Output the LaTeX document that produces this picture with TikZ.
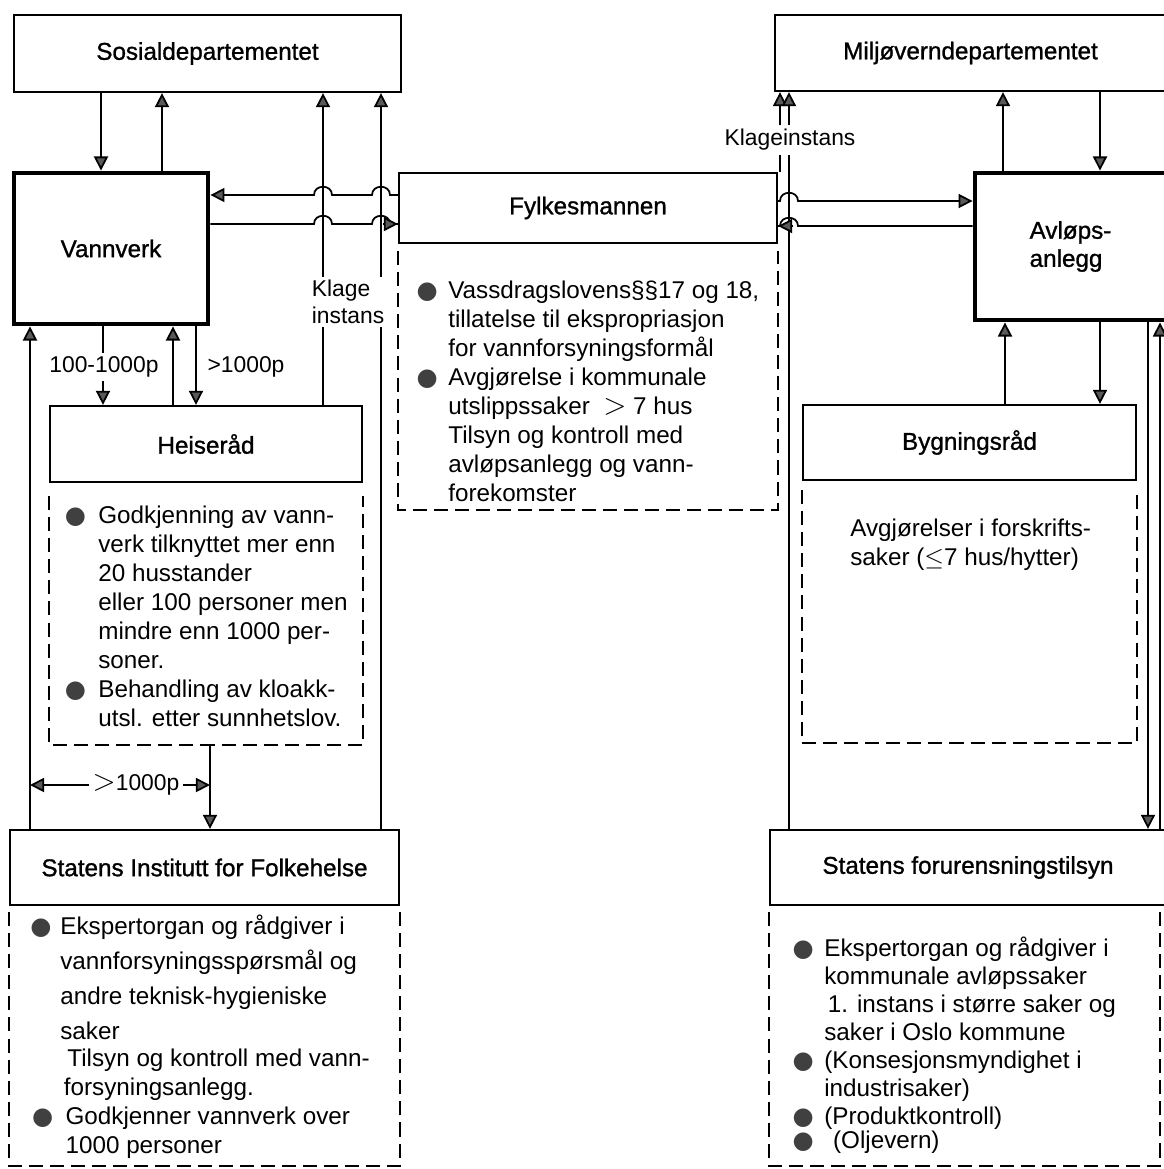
\documentclass[tikz,border=0pt]{standalone}
\usepackage{fontspec}
\setmainfont{Liberation Sans}
\newfontfamily\headfont{Liberation Sans}[FakeBold=1.1]
\newfontfamily\bulletfont{DejaVu Sans}
\usetikzlibrary{arrows.meta}

\newcommand{\blt}{\textcolor{black!75}{\bulletfont ●}}
\newcommand{\bigGt}[1]{{\fontsize{#1}{#1}\selectfont$>$}}

\begin{document}
\begin{tikzpicture}[x=0.02cm, y=-0.02cm,
  box/.style={draw, line width=1.3pt, inner sep=0pt, font=\headfont\fontsize{13.8}{16}\selectfont},
  thickbox/.style={box, line width=2.8pt},
  frame/.style={draw, line width=1.4pt, dash pattern=on 8pt off 4pt},
  info/.style={anchor=north west, inner sep=0pt, align=left, font=\fontsize{13.8}{16.5}\selectfont},
  lbl/.style={inner sep=2pt, font=\fontsize{13}{15}\selectfont},
  wire/.style={line width=1pt},
  arr/.style={wire, -{Triangle[length=8pt,width=8pt,fill=black!65]}},
  rarr/.style={wire, {Triangle[length=8pt,width=8pt,fill=black!65]}-}]

% a line hopping over a vertical line at x=#1, y=#2
\newcommand{\hopOver}[2]{%
  -- ({#1-9},#2) .. controls ({#1-9},{#2-11}) and ({#1+9},{#2-11}) .. ({#1+9},#2)}

\useasboundingbox (0,0) rectangle (1163,1169);

% Boxes
\node[box, minimum width=7.74cm, minimum height=1.54cm] (sos) at (207.5,53.5) {Sosialdepartementet};
\node[thickbox, minimum width=3.88cm, minimum height=3.02cm] (vann) at (111,248.5) {Vannverk\hspace{14pt}};
\node[box, minimum width=7.56cm, minimum height=1.40cm] (fylke) at (588,208) {Fylkesmannen};
\node[box, minimum width=6.24cm, minimum height=1.52cm] (helse) at (206,444) {Heiseråd};
\node[box, minimum width=7.78cm, minimum height=1.50cm] (siff) at (204.5,867.5) {Statens Institutt for Folkehelse};
\node[box, minimum width=7.82cm, minimum height=1.52cm] (milj) at (970.5,53) {Miljøverndepartementet};
\node[thickbox, minimum width=3.82cm, minimum height=2.94cm, align=left] (avl) at (1070.5,246.5) {Avløps-\\anlegg};
\node[box, minimum width=6.66cm, minimum height=1.50cm] (byg) at (969.5,442.5) {Bygningsråd};
\node[box, minimum width=7.92cm, minimum height=1.50cm] (sft) at (968,867.5) {Statens forurensningstilsyn};

% Dashed frames under the boxes
\coordinate (helsebot) at (210,745);
\draw[frame] (fylke.south west |- 0,251) |- (fylke.south east |- 0,510) -- (fylke.south east |- 0,251);
\draw[frame] (helse.south west |- 0,496) |- (helse.east |- helsebot) -- (helse.south east |- 0,496);
\draw[frame] (siff.south west |- 0,912) |- (siff.east |- 0,1166) -- (siff.south east |- 0,912);
\draw[frame] (byg.south west |- 0,490) |- (byg.east |- 0,743) -- (byg.south east |- 0,490);
\draw[frame] (sft.south west |- 0,912) |- (1160,1166) -- (1160,912);

% Texts in the frames
\node[info] (fylketxt) at (448,281) {\llap{\blt\hspace{6pt}}Vassdragslovens§§17 og 18,\\
  tillatelse til ekspropriasjon\\
  for vannforsyningsformål\\
  \llap{\blt\hspace{6pt}}Avgjørelse i kommunale\\
  utslippssaker \ \bigGt{18} 7 hus\\
  Tilsyn og kontroll med\\
  avløpsanlegg og vann-\\
  forekomster};
\node[info] (helsetxt) at (98,506) {\llap{\blt\hspace{7pt}}Godkjenning av vann-\\
  verk tilknyttet mer enn\\
  20 husstander\\
  eller 100 personer men\\
  mindre enn 1000 per-\\
  soner.\\
  \llap{\blt\hspace{7pt}}Behandling av kloakk-\\
  utsl. etter sunnhetslov.};
\node[info] (sifftxt) at (60,915) {\llap{\blt\hspace{5pt}}Ekspertorgan og rådgiver i\\[3.4pt]
  vannforsyningsspørsmål og\\[3.4pt]
  andre teknisk-hygieniske\\[3.4pt]
  saker\\[-1.5pt]
  \hspace*{4pt}Tilsyn og kontroll med vann-\\
  \hspace*{2pt}forsyningsanlegg.\\
  \hspace*{3pt}\llap{\blt\hspace{7pt}}Godkjenner vannverk over\\
  \hspace*{3pt}1000 personer};
\node[info] (bygtxt) at (850,519) {Avgjørelser i forskrifts-\\saker ($\leq$7 hus/hytter)};
\node[info, font=\fontsize{13.8}{15.9}\selectfont] (sfttxt) at (824,937) {\llap{\blt\hspace{6pt}}Ekspertorgan og rådgiver i\\
  kommunale avløpssaker\\
  \hspace*{2pt}1. instans i større saker og\\
  saker i Oslo kommune\\
  \llap{\blt\hspace{6pt}}(Konsesjonsmyndighet i\\
  industrisaker)\\
  \llap{\blt\hspace{6pt}}(Produktkontroll)\\[-2pt]
  \llap{\blt\hspace{6pt}}\hspace*{5pt}(Oljevern)};

% Sosialdepartementet <-> Vannverk
\draw[arr] (sos.south -| 101,0) -- (vann.north -| 101,0);
\draw[arr] (vann.north -| 162,0) -- (sos.south -| 162,0);

% Klage instans
\node[lbl, align=left] (klage) at (348,302) {Klage\\instans};
\draw[wire] (helse.north -| 323,0) -- (klage.south -| 323,0);
\draw[arr] (klage.north -| 323,0) -- (sos.south -| 323,0);
\draw[wire] (siff.north -| 381,0) -- (klage.south -| 381,0);
\draw[arr] (klage.north -| 381,0) -- (sos.south -| 381,0);

% Fylkesmannen <-> Vannverk
\draw[rarr] (vann.east |- 0,195) \hopOver{323}{195} \hopOver{381}{195} -- (fylke.west |- 0,195);
\draw[wire] (vann.east |- 0,224) \hopOver{323}{224} \hopOver{381}{224} -- (fylke.west |- 0,224);
\draw[arr] (fylke.west |- 0,224) ++(-15,0) -- (fylke.west |- 0,224);

% Vannverk <-> Heiseraad
\node[lbl] (smallp) at (104,367) {100-1000p};
\draw[wire] (vann.south -| 103,0) -- (smallp.north -| 103,0);
\draw[arr] (smallp.south -| 103,0) -- (helse.north -| 103,0);
\draw[arr] (helse.north -| 173,0) -- (vann.south -| 173,0);
\draw[arr] (vann.south -| 196,0) -- (helse.north -| 196,0);
\node[lbl] (bigp) at (246,367) {>1000p};

% Heiseraad / Vannverk <-> Statens Institutt
\draw[arr] (helsebot) -- (siff.north -| helsebot);
\draw[arr] (siff.north -| 30,0) -- (vann.south -| 30,0);
\node[lbl] (limit) at (136,785) {\bigGt{17}1000p};
\draw[arr] (limit.west) -- (limit.west -| 30,0);
\draw[arr] (limit.east) -- (limit.east -| helsebot);

% Miljoeverndepartementet <-> Avloepsanlegg
\draw[arr] (milj.south -| 1100,0) -- (avl.north -| 1100,0);
\draw[arr] (avl.north -| 1003,0) -- (milj.south -| 1003,0);

% Avloepsanlegg <-> Bygningsraad, SFT
\draw[arr] (byg.north -| 1005,0) -- (avl.south -| 1005,0);
\draw[arr] (avl.south -| 1100,0) -- (byg.north -| 1100,0);
\draw[arr] (avl.south -| 1148,0) -- (sft.north -| 1148,0);
\draw[arr] (sft.north -| 1160,0) -- (avl.south -| 1160,0);

% Klageinstans
\node[lbl] (klageinst) at (790,140) {Klageinstans};
\draw[wire] (fylke.north -| 780,0) -- (klageinst.south -| 780,0);
\draw[arr] (klageinst.north -| 780,0) -- (milj.south -| 780,0);
\draw[wire] (sft.north -| 789,0) -- (klageinst.south -| 789,0);
\draw[arr] (klageinst.north -| 789,0) -- (milj.south -| 789,0);

% Fylkesmannen <-> Avloepsanlegg
\draw[arr] (fylke.east |- 0,201) \hopOver{789}{201} -- (avl.west |- 0,201);
\draw[wire] (fylke.east |- 0,226) \hopOver{789}{226} -- (avl.west |- 0,226);
\draw[arr] (fylke.east |- 0,226) ++(15,0) -- (fylke.east |- 0,226);

\end{tikzpicture}
\end{document}
